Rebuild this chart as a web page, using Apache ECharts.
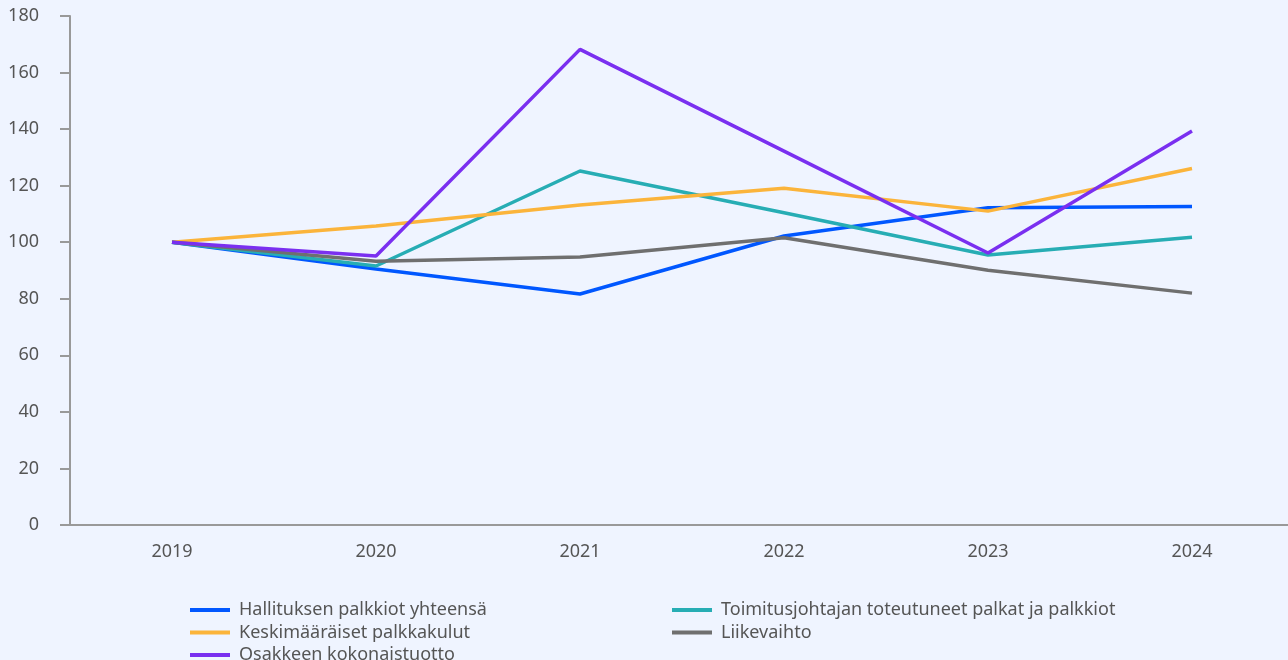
<!DOCTYPE html>
<html>
<head>
<meta charset="utf-8">
<script src="https://cdn.jsdelivr.net/npm/echarts@6/dist/echarts.min.js"></script>
<style>
  html, body { margin: 0; padding: 0; background: #eff4ff; overflow: hidden; }
  #chart { width: 1294px; height: 660px; }
</style>
</head>
<body>
<div id="chart"></div>
<script>
  /* 年份与各系列指数（2019 = 100） */
  var years = ["2019", "2020", "2021", "2022", "2023", "2024"];
  var hallitus = [100, 90.5, 81.7, 102.2, 112.2, 112.6];
  var toimitusjohtaja = [100, 91.6, 125.2, 110.4, 95.5, 101.8];
  var palkkakulut = [100, 105.7, 113.2, 119.1, 111.0, 126.1];
  var liikevaihto = [100, 93.3, 94.8, 101.6, 90.1, 82.0];
  var osake = [100, 95.1, 168.2, 132.2, 96.2, 139.3];

  var names = [
    "Hallituksen palkkiot yhteensä",
    "Toimitusjohtajan toteutuneet palkat ja palkkiot",
    "Keskimääräiset palkkakulut",
    "Liikevaihto",
    "Osakkeen kokonaistuotto"
  ];
  var colors = ["#0057ff", "#27adb4", "#fbb43b", "#6f6f6f", "#7a2ff0"];
  var values = [hallitus, toimitusjohtaja, palkkakulut, liikevaihto, osake];

  var series = [];
  for (var i = 0; i < names.length; i++) {
    series.push({
      name: names[i],
      type: "line",
      data: values[i],
      symbol: "none",
      z: i === 4 ? 5 : 2,
      lineStyle: { width: 3.5, color: colors[i] },
      itemStyle: { color: colors[i] }
    });
  }

  /* 两列图例：左列三项、右列两项 */
  var legendBase = {
    orient: "vertical",
    top: 599,
    height: 80,
    padding: 0,
    icon: "rect",
    itemWidth: 40,
    itemHeight: 4,
    itemGap: 0.5,
    textStyle: {
      fontFamily: "Noto Sans", fontSize: 18, color: "#555",
      lineHeight: 22, padding: [0, 0, 0, 4]
    }
  };

  var chart = echarts.init(document.getElementById("chart"));
  chart.setOption({
    backgroundColor: "#eff4ff",
    animation: false,
    textStyle: { fontFamily: "Noto Sans" },
    grid: { left: 70, top: 16, right: 0, bottom: 135 },
    legend: [
      Object.assign({}, legendBase, { left: 190, data: [names[0], names[2], names[4]] }),
      Object.assign({}, legendBase, { left: 672, data: [names[1], names[3]] })
    ],
    xAxis: {
      type: "category",
      data: years,
      boundaryGap: true,
      axisLine: { lineStyle: { color: "#999", width: 2 } },
      axisTick: { show: false },
      axisLabel: { color: "#555", fontSize: 18, margin: 18 }
    },
    yAxis: {
      type: "value",
      min: 0,
      max: 180,
      interval: 20,
      splitLine: { show: false },
      axisLine: { show: true, lineStyle: { color: "#999", width: 2 } },
      axisTick: { show: true, length: 10, lineStyle: { color: "#999", width: 2 } },
      axisLabel: { color: "#555", fontSize: 18, margin: 31 }
    },
    series: series
  });
</script>
</body>
</html>
